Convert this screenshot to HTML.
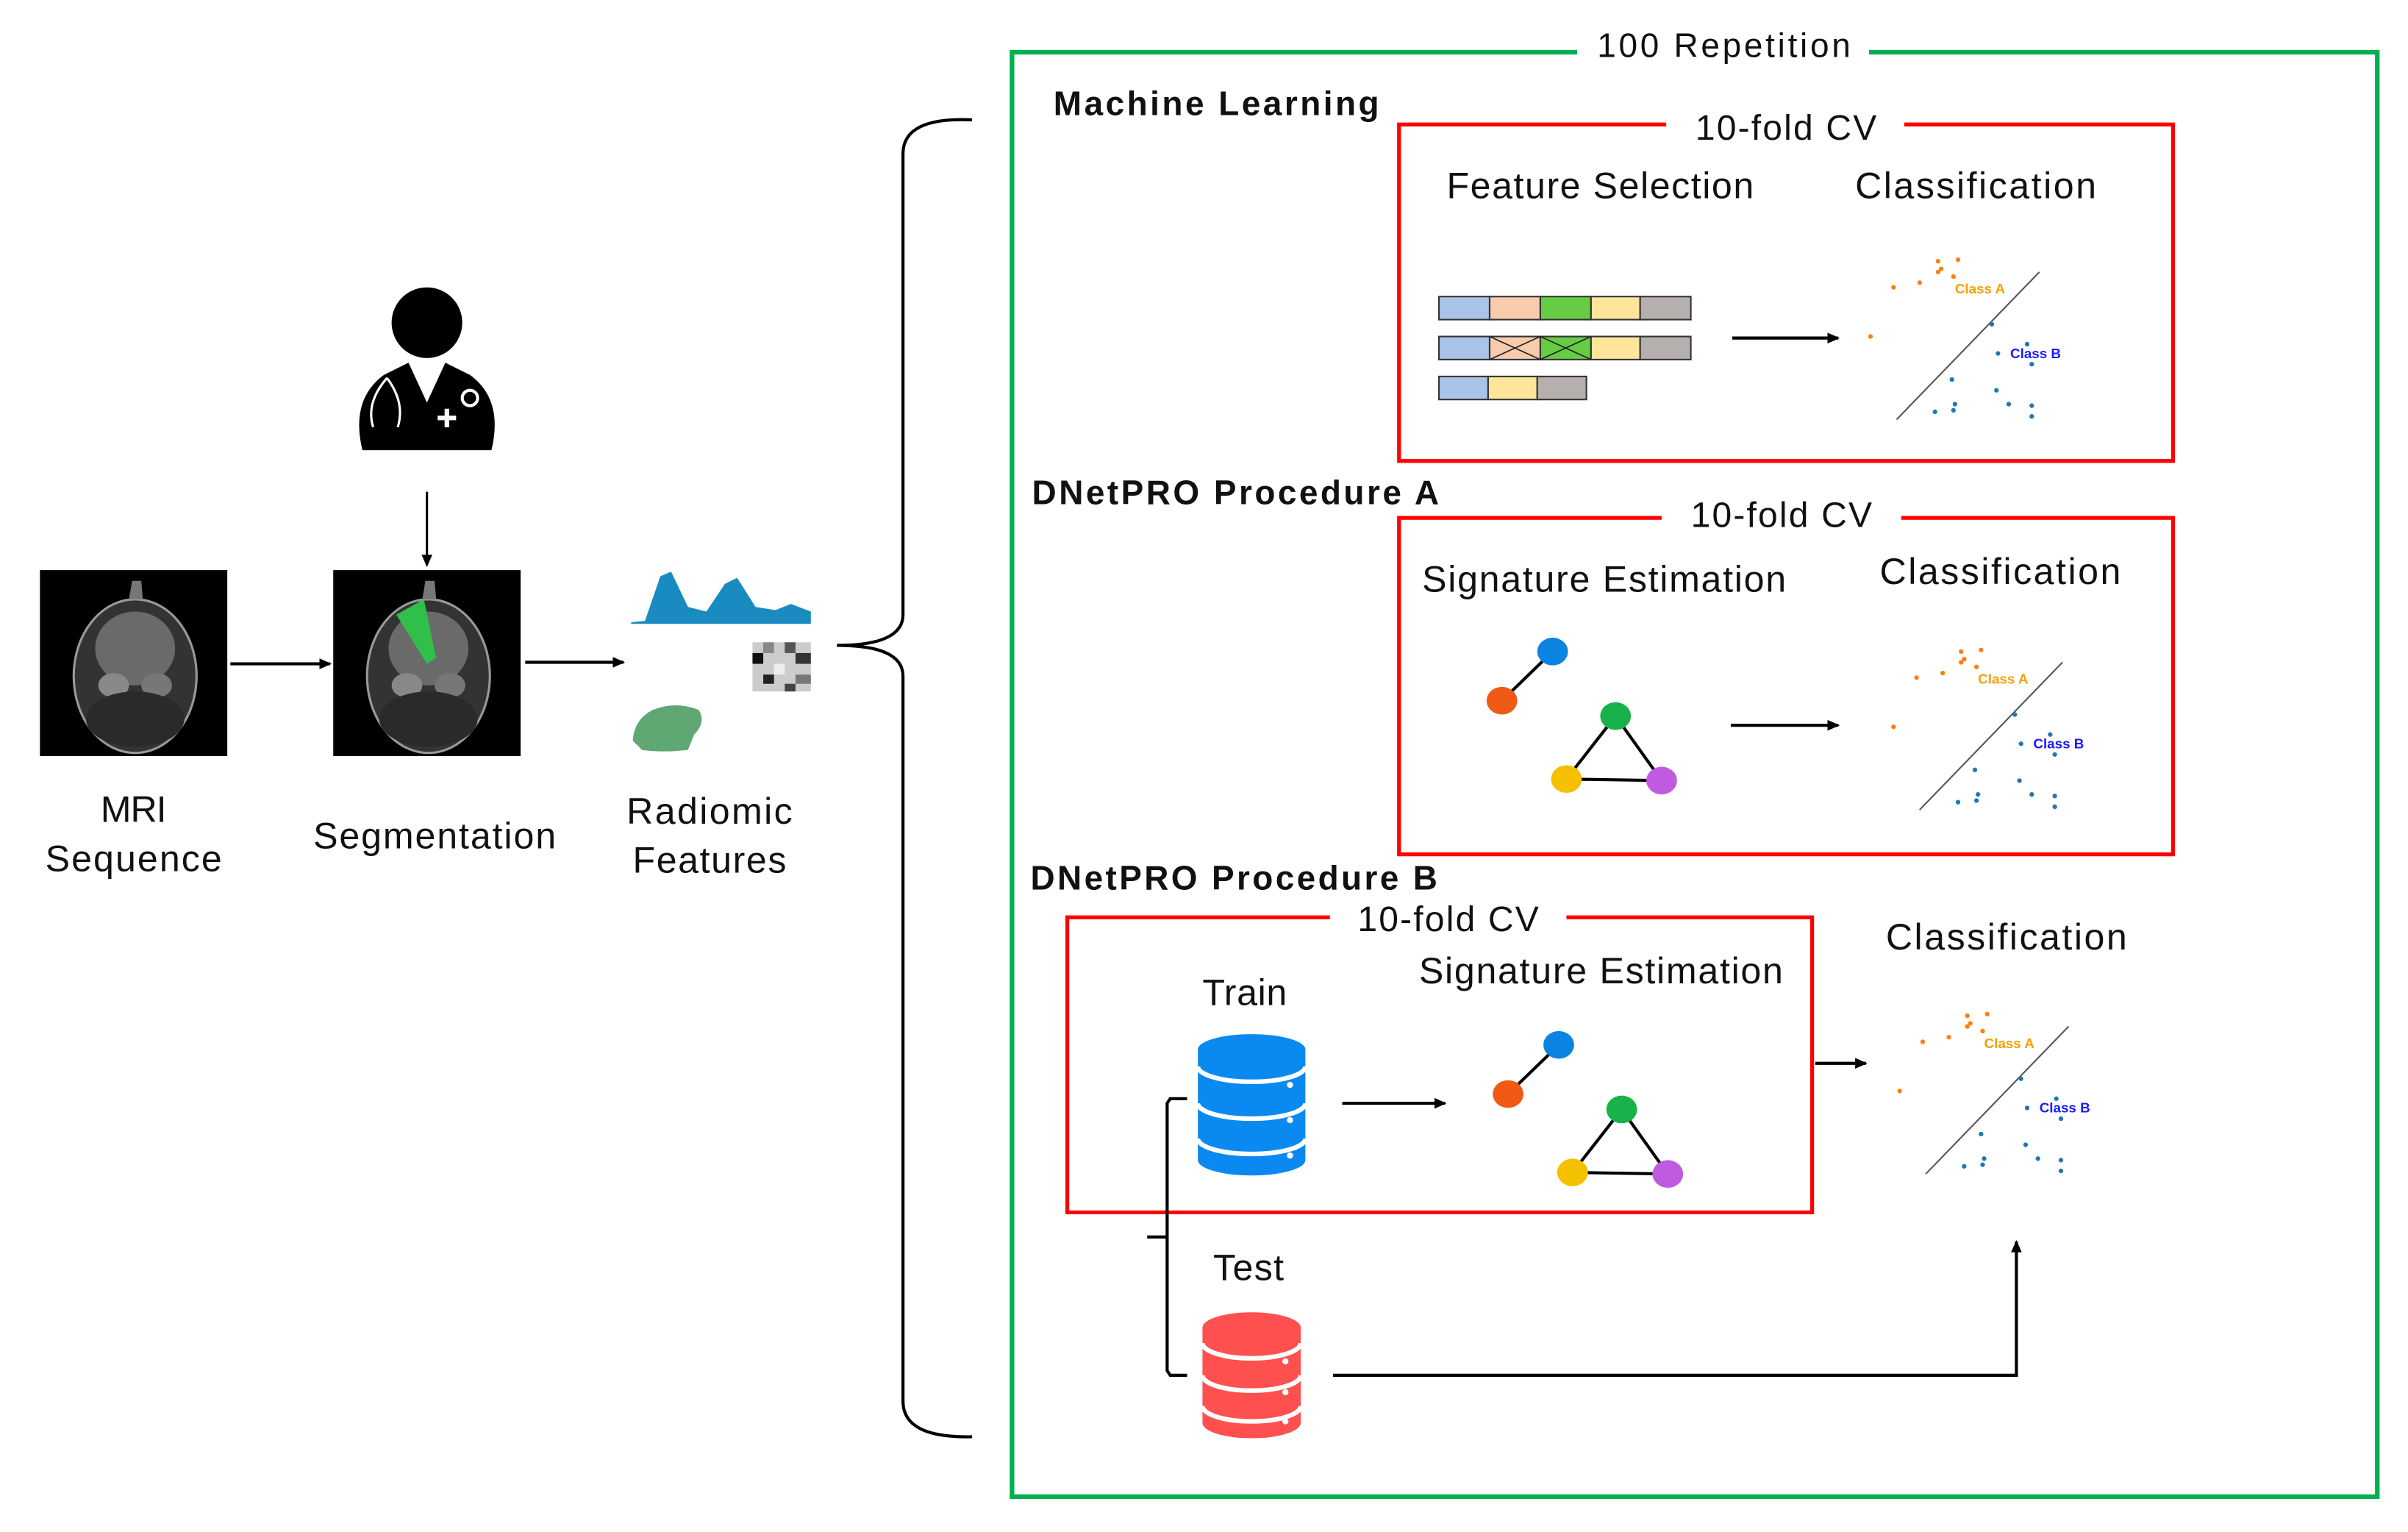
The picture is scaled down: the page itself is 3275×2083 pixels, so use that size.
<!DOCTYPE html>
<html><head><meta charset="utf-8"><style>
html,body{margin:0;padding:0;background:#fff;}
svg{display:block;}
text{font-family:"Liberation Sans",sans-serif;fill:#111;}
.b{font-weight:bold;}
</style></head><body>
<svg width="3275" height="2083" viewBox="0 0 1568 997" preserveAspectRatio="none" xmlns="http://www.w3.org/2000/svg">
<defs>
<marker id="ah" markerWidth="8" markerHeight="8" refX="7" refY="4" orient="auto" markerUnits="userSpaceOnUse"><path d="M0,0.5 L8,4 L0,7.5 Z" fill="#000"/></marker>
<g id="scatter">
 <line x1="0" y1="96" x2="93" y2="0" stroke="#555" stroke-width="1"/>
 <g fill="#ff7f0e">
  <circle cx="-2" cy="10" r="1.5"/><circle cx="15" cy="7" r="1.5"/><circle cx="27" cy="-7" r="1.5"/><circle cx="40" cy="-8" r="1.5"/><circle cx="27" cy="0" r="1.5"/><circle cx="29" cy="-2" r="1.5"/><circle cx="37" cy="3" r="1.5"/><circle cx="-17" cy="42" r="1.5"/>
 </g>
 <text x="38" y="14" font-size="9" class="b" style="fill:#f5a000">Class A</text>
 <g fill="#1f77b4">
  <circle cx="62" cy="34" r="1.5"/><circle cx="66" cy="53" r="1.5"/><circle cx="85" cy="47" r="1.5"/><circle cx="88" cy="60" r="1.5"/><circle cx="36" cy="70" r="1.5"/><circle cx="25" cy="91" r="1.5"/><circle cx="37" cy="90" r="1.5"/><circle cx="38" cy="86" r="1.5"/><circle cx="65" cy="77" r="1.5"/><circle cx="73" cy="86" r="1.5"/><circle cx="88" cy="87" r="1.5"/><circle cx="88" cy="94" r="1.5"/>
 </g>
 <text x="74" y="56" font-size="9" class="b" style="fill:#1a1aff">Class B</text>
</g>
<g id="graph">
 <line x1="33" y1="0" x2="0" y2="32" stroke="#000" stroke-width="2"/>
 <line x1="74" y1="42" x2="42" y2="83" stroke="#000" stroke-width="2"/>
 <line x1="74" y1="42" x2="104" y2="84" stroke="#000" stroke-width="2"/>
 <line x1="42" y1="83" x2="104" y2="84" stroke="#000" stroke-width="2"/>
 <ellipse cx="33" cy="0" rx="10" ry="9" fill="#0a84e0"/>
 <ellipse cx="0" cy="32" rx="10" ry="9" fill="#f05a14"/>
 <ellipse cx="74" cy="42" rx="10" ry="9" fill="#17b34a"/>
 <ellipse cx="42" cy="83" rx="10" ry="9" fill="#f5c000"/>
 <ellipse cx="104" cy="84" rx="10" ry="9" fill="#c05ae0"/>
</g>
<g id="cross" stroke="#222" stroke-width="0.8"><line x1="0" y1="0" x2="33" y2="15"/><line x1="33" y1="0" x2="0" y2="15"/></g>
<g id="brain">
 <ellipse cx="0" cy="0" rx="40" ry="50" fill="#333" stroke="#999" stroke-width="1.5"/>
 <path d="M-4,-50 L-2,-62 L4,-62 L5,-50 Z" fill="#777"/>
 <ellipse cx="0" cy="-18" rx="26" ry="24" fill="#6a6a6a"/>
 <ellipse cx="-14" cy="6" rx="10" ry="8" fill="#888"/>
 <ellipse cx="14" cy="6" rx="10" ry="8" fill="#777"/>
 <ellipse cx="0" cy="28" rx="32" ry="18" fill="#2a2a2a"/>
</g>
</defs>

<circle cx="278" cy="210" r="23" fill="#000"/>
<path d="M236,293 Q228,260 250,244 L266,236 L278,262 L290,236 L306,244 Q328,260 320,293 Z" fill="#000"/>
<path d="M252,246 Q238,262 243,278 M252,246 Q264,262 259,278" stroke="#fff" stroke-width="1.5" fill="none"/>
<circle cx="306" cy="259" r="5" stroke="#fff" stroke-width="2" fill="none"/>
<path d="M291,266 v12 M285,272 h12" stroke="#fff" stroke-width="3"/>
<line x1="278" y1="320" x2="278" y2="368" stroke="#000" stroke-width="1.5" marker-end="url(#ah)"/>

<rect x="26" y="371" width="122" height="121" fill="#000"/>
<use href="#brain" x="88" y="440"/>
<rect x="217" y="371" width="122" height="121" fill="#000"/>
<use href="#brain" x="279" y="440"/>
<path d="M258,400 L276,390 L284,428 L278,432 Z" fill="#2fbf4a"/>
<line x1="150" y1="432" x2="215" y2="432" stroke="#000" stroke-width="2" marker-end="url(#ah)"/>
<line x1="342" y1="431" x2="406" y2="431" stroke="#000" stroke-width="2" marker-end="url(#ah)"/>

<path d="M411,405 L420,404 L430,375 L437,372 L448,395 L460,398 L472,380 L480,376 L492,395 L505,397 L515,393 L528,398 L528,406 L411,406 Z" fill="#1a8bc0"/>
<g>
<rect x="490" y="418" width="38" height="32" fill="#ccc"/>
<rect x="497" y="418" width="7" height="7" fill="#888"/><rect x="511" y="418" width="7" height="7" fill="#555"/><rect x="490" y="425" width="7" height="7" fill="#111"/><rect x="518" y="425" width="10" height="7" fill="#333"/><rect x="504" y="432" width="7" height="7" fill="#eee"/><rect x="497" y="439" width="7" height="6" fill="#222"/><rect x="518" y="439" width="10" height="6" fill="#777"/><rect x="511" y="445" width="7" height="5" fill="#444"/>
</g>
<path d="M412,482 Q413,468 425,462 Q440,456 455,462 Q460,470 452,478 L448,488 Q430,490 418,488 Z" fill="#5fa873"/>

<text x="87" y="535" font-size="24" text-anchor="middle" textLength="43">MRI</text>
<text x="87" y="567" font-size="24" text-anchor="middle" textLength="115">Sequence</text>
<text x="283" y="552" font-size="24" text-anchor="middle" textLength="158">Segmentation</text>
<text x="462" y="536" font-size="24" text-anchor="middle" textLength="108">Radiomic</text>
<text x="462" y="568" font-size="24" text-anchor="middle" textLength="100">Features</text>

<path d="M633,78 Q588,76 588,100 L588,400 Q588,420 545,420 Q588,420 588,440 L588,912 Q588,936 633,935" fill="none" stroke="#000" stroke-width="2"/>

<path d="M1027,34 L659,34 L659,974 L1548,974 L1548,34 L1217,34" fill="none" stroke="#00b050" stroke-width="3"/>
<text x="1040" y="37" font-size="22" textLength="165">100 Repetition</text>

<text x="686" y="75" font-size="22" class="b" textLength="212">Machine Learning</text>
<text x="672" y="328" font-size="22" class="b" textLength="265">DNetPRO Procedure A</text>
<text x="671" y="579" font-size="22" class="b" textLength="265">DNetPRO Procedure B</text>

<path d="M1085,81 L911,81 L911,300 L1415,300 L1415,81 L1240,81" fill="none" stroke="#f00" stroke-width="2.5"/>
<text x="1104" y="91" font-size="23" textLength="118">10-fold CV</text>
<text x="942" y="129" font-size="24" textLength="200">Feature Selection</text>
<text x="1208" y="129" font-size="24" textLength="157">Classification</text>
<g stroke="#333" stroke-width="1">
<rect x="937" y="193" width="33" height="15" fill="#a9c4e8"/><rect x="970" y="193" width="33" height="15" fill="#f8cbad"/><rect x="1003" y="193" width="33" height="15" fill="#66cc44"/><rect x="1036" y="193" width="32" height="15" fill="#fde59a"/><rect x="1068" y="193" width="33" height="15" fill="#b5b0ae"/>
<rect x="937" y="219" width="33" height="15" fill="#a9c4e8"/><rect x="970" y="219" width="33" height="15" fill="#f8cbad"/><rect x="1003" y="219" width="33" height="15" fill="#66cc44"/><rect x="1036" y="219" width="32" height="15" fill="#fde59a"/><rect x="1068" y="219" width="33" height="15" fill="#b5b0ae"/>
<rect x="937" y="245" width="32" height="15" fill="#a9c4e8"/><rect x="969" y="245" width="32" height="15" fill="#fde59a"/><rect x="1001" y="245" width="32" height="15" fill="#b5b0ae"/>
</g>
<use href="#cross" x="970" y="219"/><use href="#cross" x="1003" y="219"/>
<line x1="1128" y1="220" x2="1197" y2="220" stroke="#000" stroke-width="2" marker-end="url(#ah)"/>
<use href="#scatter" x="1235" y="177"/>

<path d="M1082,337 L911,337 L911,556 L1415,556 L1415,337 L1238,337" fill="none" stroke="#f00" stroke-width="2.5"/>
<text x="1101" y="343" font-size="23" textLength="118">10-fold CV</text>
<text x="926" y="385" font-size="24" textLength="237">Signature Estimation</text>
<text x="1224" y="380" font-size="24" textLength="157">Classification</text>
<use href="#graph" x="978" y="424"/>
<line x1="1127" y1="472" x2="1197" y2="472" stroke="#000" stroke-width="2" marker-end="url(#ah)"/>
<use href="#scatter" x="1250" y="431"/>

<path d="M866,597 L695,597 L695,789 L1180,789 L1180,597 L1020,597" fill="none" stroke="#f00" stroke-width="2.5"/>
<text x="884" y="606" font-size="23" textLength="118">10-fold CV</text>
<text x="783" y="654" font-size="24" textLength="55">Train</text>
<text x="924" y="640" font-size="24" textLength="237">Signature Estimation</text>
<text x="1228" y="618" font-size="24" textLength="157">Classification</text>
<text x="790" y="833" font-size="24" textLength="46">Test</text>

<g>
<path d="M780,683 L780,755 A35,10 0 0 0 850,755 L850,683 Z" fill="#0a8af0"/>
<ellipse cx="815" cy="683" rx="35" ry="10" fill="#0a8af0"/>
<path d="M780,694 A35,10 0 0 0 850,694 M780,718 A35,10 0 0 0 850,718 M780,741 A35,10 0 0 0 850,741" stroke="#fff" stroke-width="3" fill="none"/>
<circle cx="840" cy="706" r="2" fill="#fff"/><circle cx="840" cy="729" r="2" fill="#fff"/><circle cx="840" cy="752" r="2" fill="#fff"/>
</g>
<g>
<path d="M783,864 L783,926 A32,10 0 0 0 847,926 L847,864 Z" fill="#ff5050"/>
<ellipse cx="815" cy="864" rx="32" ry="10" fill="#ff5050"/>
<path d="M783,874 A32,10 0 0 0 847,874 M783,895 A32,10 0 0 0 847,895 M783,915 A32,10 0 0 0 847,915" stroke="#fff" stroke-width="3" fill="none"/>
<circle cx="837" cy="886" r="2" fill="#fff"/><circle cx="837" cy="906" r="2" fill="#fff"/><circle cx="837" cy="925" r="2" fill="#fff"/>
</g>
<path d="M773,715 L762,715 L760,718 L760,892 L762,895 L773,895 M760,805 L747,805" fill="none" stroke="#000" stroke-width="2"/>
<line x1="874" y1="718" x2="941" y2="718" stroke="#000" stroke-width="2" marker-end="url(#ah)"/>
<use href="#graph" x="982" y="680"/>
<line x1="1182" y1="692" x2="1215" y2="692" stroke="#000" stroke-width="2" marker-end="url(#ah)"/>
<use href="#scatter" x="1254" y="668"/>
<path d="M868,895 L1313,895 L1313,808" fill="none" stroke="#000" stroke-width="2" marker-end="url(#ah)"/>
</svg>
</body></html>
